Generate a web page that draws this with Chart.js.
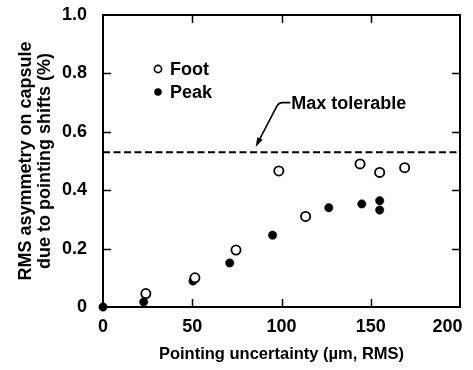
<!DOCTYPE html>
<html>
<head>
<meta charset="utf-8">
<script src="https://cdn.jsdelivr.net/npm/chart.js@4/dist/chart.umd.min.js"></script>
<style>
  html, body { margin: 0; padding: 0; background: #fff; }
  canvas { display: block; }
</style>
</head>
<body>
<canvas id="c" width="473" height="370"></canvas>
<script>
// ---- data ----
const footX = [24, 51.5, 74.5, 98.5, 113.5, 144, 155, 169];
const footY = [0.046, 0.10, 0.195, 0.466, 0.31, 0.49, 0.461, 0.477];
const peakX = [0, 22.8, 50.4, 71, 95, 126.5, 145, 155, 155];
const peakY = [0, 0.017, 0.089, 0.151, 0.246, 0.34, 0.353, 0.364, 0.332];
const maxTolerable = 0.53;
const seriesNames = ['Foot', 'Peak'];
const annotText = 'Max tolerable';
// annotation anchor in data units: text start, leader corner, arrow tip
const annotTextPos = [105.5, 0.70];
const annotCorner = [99.5, 0.70];
const annotTip = [85.5, 0.548];
const xTitle = 'Pointing uncertainty (\u00b5m, RMS)';
const yTitle = ['RMS asymmetry on capsule', 'due to pointing shifts (%)'];
const xRange = [0, 200];
const yRange = [0, 1.0];

const FONT = "'Liberation Sans', Arial, Helvetica, sans-serif";

const toPts = (xs, ys) => xs.map((x, i) => ({ x: x, y: ys[i] }));

const framePlugin = {
  id: 'frame',
  beforeDatasetsDraw(chart) {
    const { ctx, chartArea: a, scales } = chart;
    ctx.save();
    ctx.strokeStyle = '#000';
    ctx.lineWidth = 2;
    ctx.strokeRect(a.left, a.top, a.right - a.left, a.bottom - a.top);
    ctx.lineWidth = 1.5;
    const tl = 8;
    scales.x.ticks.forEach(t => {
      if (t.value <= xRange[0] || t.value >= xRange[1]) return;
      const px = Math.round(scales.x.getPixelForValue(t.value)) + 0.5;
      ctx.beginPath();
      ctx.moveTo(px, a.bottom); ctx.lineTo(px, a.bottom - tl);
      ctx.moveTo(px, a.top); ctx.lineTo(px, a.top + tl);
      ctx.stroke();
    });
    scales.y.ticks.forEach(t => {
      if (t.value <= yRange[0] || t.value >= yRange[1]) return;
      const py = Math.round(scales.y.getPixelForValue(t.value)) + 0.5;
      ctx.beginPath();
      ctx.moveTo(a.left, py); ctx.lineTo(a.left + tl, py);
      ctx.moveTo(a.right, py); ctx.lineTo(a.right - tl, py);
      ctx.stroke();
    });
    ctx.restore();
  }
};

const overlayPlugin = {
  id: 'overlay',
  afterDatasetsDraw(chart) {
    const { ctx, chartArea: a, scales } = chart;
    const X = v => scales.x.getPixelForValue(v);
    const Y = v => scales.y.getPixelForValue(v);
    ctx.save();
    // legend
    ctx.font = 'bold 18px ' + FONT;
    ctx.textBaseline = 'middle';
    ctx.textAlign = 'left';
    ctx.fillStyle = '#000';
    const lx = a.left + 55;
    const rows = [a.top + 54, a.top + 77];
    // Foot marker (open)
    ctx.beginPath();
    ctx.arc(lx, rows[0], 3.6, 0, Math.PI * 2);
    ctx.fillStyle = '#fff'; ctx.fill();
    ctx.lineWidth = 1.6; ctx.strokeStyle = '#000'; ctx.stroke();
    // Peak marker (filled)
    ctx.beginPath();
    ctx.arc(lx, rows[1], 3.8, 0, Math.PI * 2);
    ctx.fillStyle = '#000'; ctx.fill();
    ctx.fillStyle = '#000';
    ctx.fillText(seriesNames[0], lx + 12, rows[0] + 1);
    ctx.fillText(seriesNames[1], lx + 12, rows[1] + 1);

    // annotation
    const tx = X(annotTextPos[0]), ty = Y(annotTextPos[1]);
    ctx.fillText(annotText, tx, ty + 1);
    const cx = X(annotCorner[0]), cy = Y(annotCorner[1]);
    const px = X(annotTip[0]), py = Y(annotTip[1]);
    ctx.lineWidth = 1.6;
    ctx.beginPath();
    ctx.moveTo(tx - 1, cy);
    ctx.lineTo(cx + 2, cy);
    ctx.quadraticCurveTo(cx - 2, cy, cx - 4, cy + 4);
    const ang = Math.atan2(py - (cy + 4), px - (cx - 4));
    const hl = 10;
    ctx.lineTo(px - Math.cos(ang) * hl * 0.8, py - Math.sin(ang) * hl * 0.8);
    ctx.stroke();
    ctx.beginPath();
    ctx.moveTo(px, py);
    ctx.lineTo(px - hl * Math.cos(ang - 0.3), py - hl * Math.sin(ang - 0.3));
    ctx.lineTo(px - hl * Math.cos(ang + 0.3), py - hl * Math.sin(ang + 0.3));
    ctx.closePath();
    ctx.fill();
    ctx.restore();
  }
};

new Chart(document.getElementById('c'), {
  type: 'scatter',
  data: {
    datasets: [
      {
        label: seriesNames[0],
        data: toPts(footX, footY),
        pointStyle: 'circle',
        pointRadius: 4.6,
        pointBorderWidth: 1.8,
        pointBackgroundColor: '#fff',
        pointBorderColor: '#000',
        order: 0,
        clip: false
      },
      {
        label: seriesNames[1],
        data: toPts(peakX, peakY),
        pointStyle: 'circle',
        pointRadius: 4.2,
        pointBorderWidth: 0.5,
        pointBackgroundColor: '#000',
        pointBorderColor: '#000',
        order: 1,
        clip: false
      },
      {
        type: 'line',
        label: annotText,
        data: [{ x: xRange[0], y: maxTolerable }, { x: xRange[1], y: maxTolerable }],
        borderColor: '#000',
        borderWidth: 2,
        borderDash: [7, 3.5],
        pointRadius: 0,
        order: 2,
        clip: false
      }
    ]
  },
  options: {
    responsive: false,
    devicePixelRatio: 1,
    animation: false,
    layout: { padding: { left: 0, right: 13, top: 15, bottom: 0 } },
    plugins: { legend: { display: false }, tooltip: { enabled: false } },
    scales: {
      x: {
        type: 'linear',
        min: xRange[0], max: xRange[1],
        grid: { display: false, drawTicks: false },
        border: { display: false },
        ticks: {
          stepSize: 50,
          padding: 9,
          color: '#000',
          font: { family: FONT, size: 18, weight: 'bold' },
          maxRotation: 0,
          // the last label sits inside the frame edge, as in the reference
          callback: v => (v === xRange[1] ? String(v) + '     ' : String(v))
        },
        title: {
          display: true,
          text: xTitle,
          color: '#000',
          font: { family: FONT, size: 16.5, weight: 'bold' },
          padding: { top: 0, bottom: 6 }
        },
        afterFit(s) { s.height = 63; s.paddingLeft = 0; s.paddingRight = 0; }
      },
      y: {
        type: 'linear',
        min: yRange[0], max: yRange[1],
        grid: { display: false, drawTicks: false },
        border: { display: false },
        ticks: {
          stepSize: 0.2,
          padding: 16,
          color: '#000',
          font: { family: FONT, size: 18, weight: 'bold' },
          callback: v => (v === 0 ? '0' : v.toFixed(1))
        },
        title: {
          display: true,
          text: yTitle,
          color: '#000',
          font: { family: FONT, size: 18, weight: 'bold', lineHeight: 1.05 },
          padding: { top: 17, bottom: 0 }
        },
        afterFit(s) { s.width = 103; s.paddingTop = 0; s.paddingBottom = 0; }
      }
    }
  },
  plugins: [framePlugin, overlayPlugin]
});
</script>
</body>
</html>
